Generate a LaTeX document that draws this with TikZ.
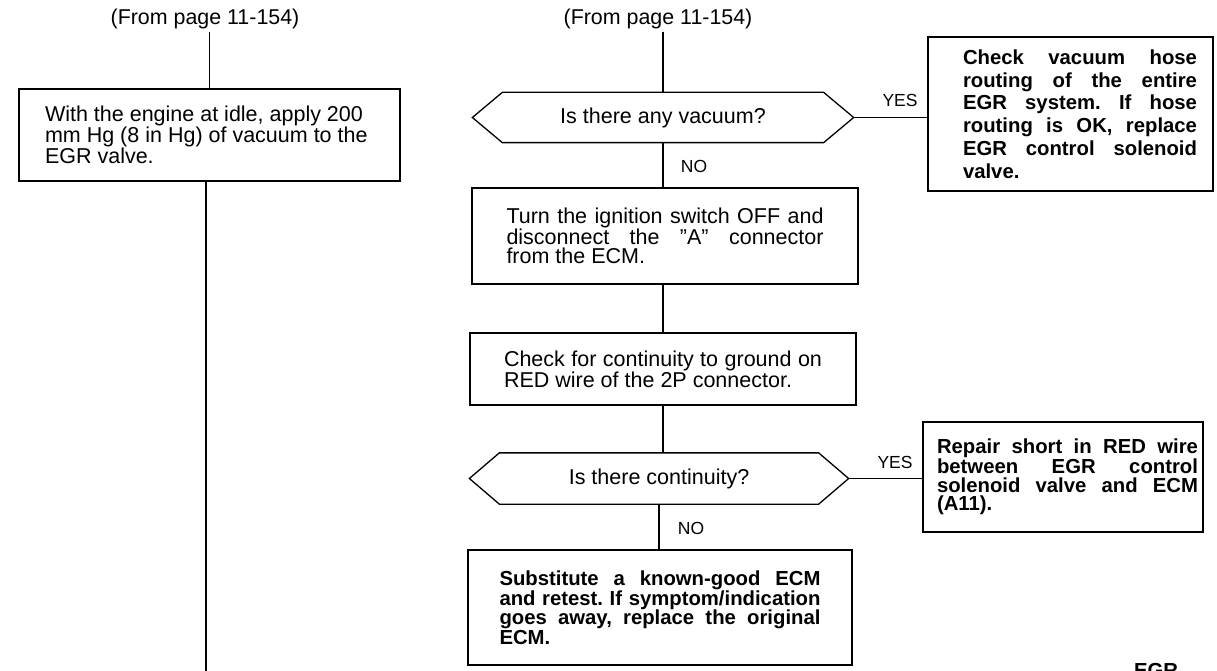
\documentclass[tikz,border=0pt]{standalone}
\usepackage{fontspec}
\setmainfont{Liberation Sans}
\frenchspacing
\begin{document}
\begin{tikzpicture}[x=1pt,y=-1pt,line width=1.3pt,
  reg/.style={font={\frenchspacing\fontsize{21.5}{19.3}\selectfont}},
  bld/.style={font={\frenchspacing\bfseries\fontsize{20.3}{19.5}\selectfont}},
  box/.style={draw,rectangle,inner sep=0pt},
  hexn/.style={inner sep=0pt,font={\fontsize{21.5}{19}\selectfont}},
  lbl/.style={inner sep=0pt,font={\fontsize{17.5}{17}\selectfont}},
  ttl/.style={inner sep=2pt,font={\fontsize{21.4}{19}\selectfont}}]
\useasboundingbox (0,0) rectangle (1217,671);
% titles
\node[ttl] (t1) at (205,19) {(From page 11-154)};
\node[ttl] (t2) at (658,19) {(From page 11-154)};
% left box
\node[box,reg,minimum width=381,minimum height=92] (bL) at (209.5,135)
  {\parbox{329pt}{\raggedright With the engine at idle, apply 200\\ mm Hg (8 in Hg) of vacuum to the\\ EGR valve.}};
\coordinate (endL) at (206,671);
% decision 1
\node[hexn,minimum width=380,minimum height=49] (q1) at (663,117.5) {Is there any vacuum?};
\draw ([xshift=30]q1.north west) -- ([xshift=-30]q1.north east) -- (q1.east)
  -- ([xshift=-30]q1.south east) -- ([xshift=30]q1.south west) -- (q1.west) -- cycle;
% box A
\node[box,bld,minimum width=285,minimum height=154] (bA) at (1070.5,114)
  {\hspace*{19pt}\parbox{234pt}{\baselineskip=22.7pt Check vacuum hose\linebreak routing of the entire\linebreak EGR system. If hose\linebreak routing is OK, replace\linebreak EGR control solenoid\linebreak valve.}};
% box 2
\node[box,reg,minimum width=386,minimum height=96] (b2) at (665,236)
  {\parbox{317pt}{Turn the ignition switch OFF and\linebreak disconnect the ''A'' connector\linebreak from the ECM.}};
% box 3
\node[box,reg,minimum width=386,minimum height=72] (b3) at (663,369)
  {\parbox{318pt}{\baselineskip=21pt Check for continuity to ground on\linebreak RED wire of the 2P connector.}};
% decision 2
\node[hexn,minimum width=378,minimum height=50] (q2) at (659,478.5) {Is there continuity?};
\draw ([xshift=30]q2.north west) -- ([xshift=-30]q2.north east) -- (q2.east)
  -- ([xshift=-30]q2.south east) -- ([xshift=30]q2.south west) -- (q2.west) -- cycle;
% box B
\node[box,bld,minimum width=280,minimum height=110] (bB) at (1063,477)
  {\hspace*{9pt}\parbox{261pt}{\baselineskip=18.5pt Repair short in RED wire\linebreak between EGR control\linebreak solenoid valve and ECM\linebreak (A11).}};
% box 4
\node[box,bld,minimum width=384,minimum height=115] (b4) at (660,607.5)
  {\parbox{321pt}{Substitute a known-good ECM\linebreak and retest. If symptom/indication\linebreak goes away, replace the original\linebreak ECM.}};
% labels
\node[lbl] (y1) at (900,100) {YES};
\node[lbl] (n1) at (694,166) {NO};
\node[lbl] (y2) at (895,462) {YES};
\node[lbl] (n2) at (691,528) {NO};
\node[bld,anchor=north,inner sep=0pt] (egr) at (1156,663) {EGR};
% connectors
\draw (bL.north |- t1.south) -- (bL.north);
\draw (bL.south -| endL) -- (endL);
\draw (q1.north |- t2.south) -- (q1.north);
\draw (q1.east) -- (q1.east -| bA.west);
\draw (q1.south) -- (q1.south |- b2.north);
\draw (b2.south -| q1.south) -- (q1.south |- b3.north);
\draw (b3.south -| q1.south) -- (q1.south |- q2.north);
\draw (q2.east) -- (q2.east -| bB.west);
\draw (q2.south) -- (q2.south |- b4.north);
\end{tikzpicture}
\end{document}
